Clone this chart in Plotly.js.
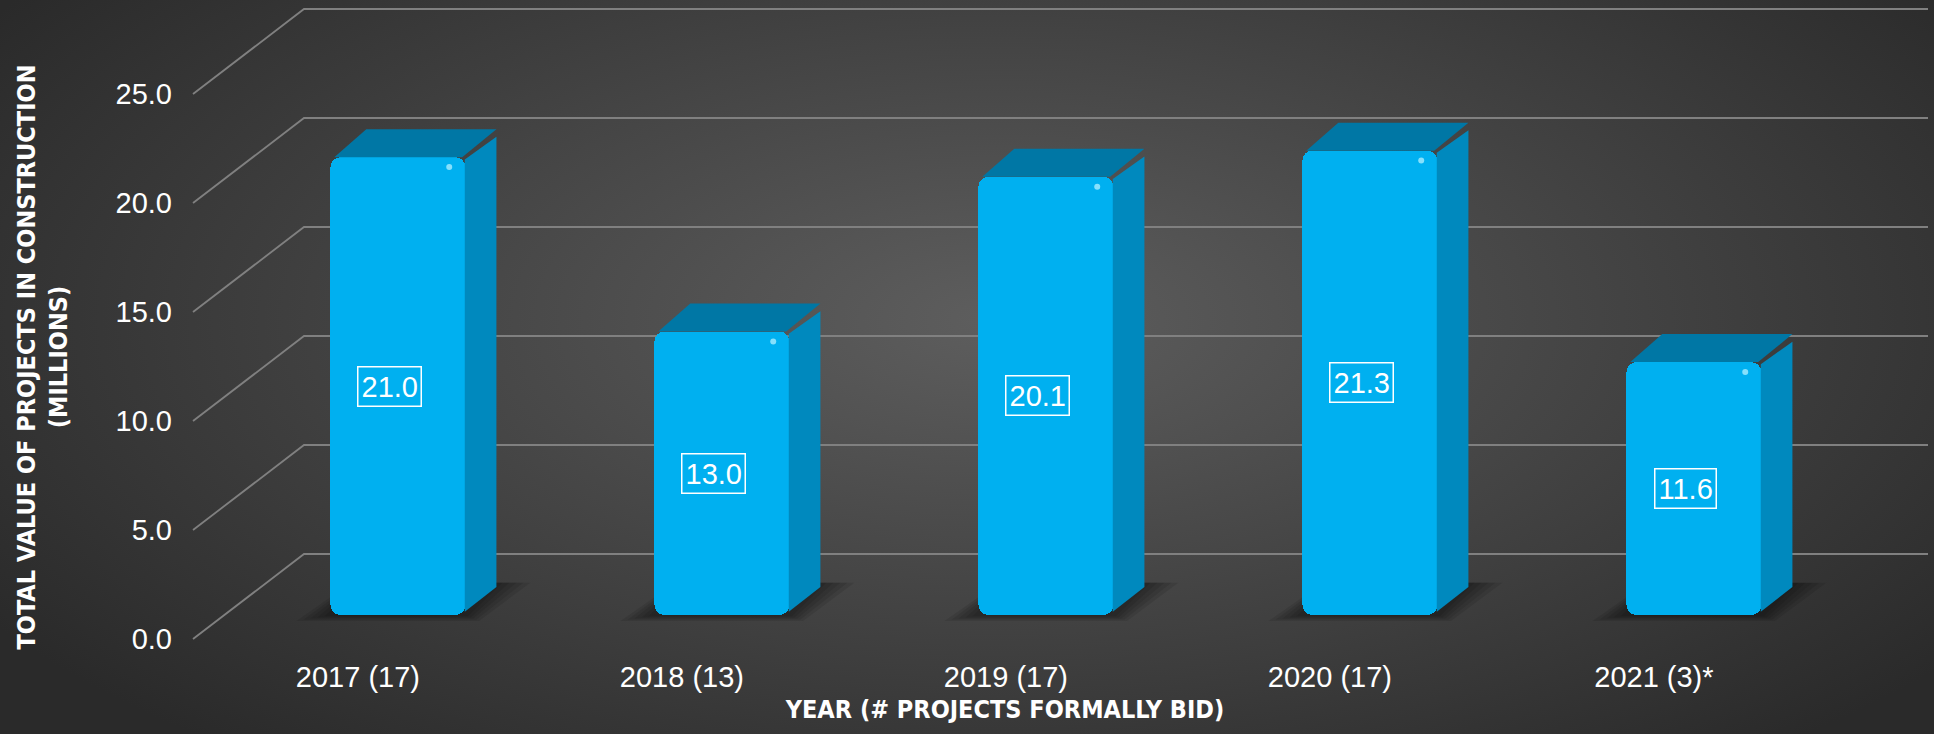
<!DOCTYPE html>
<html><head><meta charset="utf-8">
<script src="https://cdn.plot.ly/plotly-3.0.1.min.js"></script>
<style>
html,body{margin:0;padding:0;width:1934px;height:734px;overflow:hidden;
background: radial-gradient(ellipse 1200px 560px at 1000px 320px, #5e5e5e 0%, #2a2a2a 100%);}
#chart{width:1934px;height:734px;}
</style></head><body><div id="chart"></div>
<script>
// ---- data ----
const categories = ['2017 (17)', '2018 (13)', '2019 (17)', '2020 (17)', '2021 (3)*'];
const values = [21.0, 13.0, 20.1, 21.3, 11.6];
const valueLabels = ['21.0', '13.0', '20.1', '21.3', '11.6'];
const yTickValues = [0, 5, 10, 15, 20, 25];
const yTickLabels = ['0.0', '5.0', '10.0', '15.0', '20.0', '25.0'];
const xTitle = 'YEAR (# PROJECTS FORMALLY BID)';
const yTitle = 'TOTAL VALUE OF PROJECTS IN CONSTRUCTION<br>(MILLIONS)';

// ---- geometry (layout, not data) ----
const W = 1934, H = 734;
const M = {l: 193, r: 117, t: 75, b: 95};
const PX_X = 324, PX_Y = 21.8;
const plotW = W - M.l - M.r, plotH = H - M.t - M.b;
const X0 = -0.509;
const xRange = [X0, X0 + plotW / PX_X];
const yRange = [0, plotH / PX_Y];
const GDX = 111 / PX_X, GDY = 85 / PX_Y;          // depth of the back wall
const X_END = X0 + (1928 - M.l) / PX_X;          // right end of gridlines
const BOFF = 40 / PX_X, BASE = 24 / PX_Y;         // bar front face offset
const BW = 135 / PX_X, BDX = 31 / PX_X, BDY = 28 / PX_Y; // bar width / depth
const LOFF = -8 / PX_X;                           // value label nudge
const fx = x => (x - xRange[0]) / (xRange[1] - xRange[0]);
const fy = y => (y - yRange[0]) / (yRange[1] - yRange[0]);
const idx = categories.map((c, i) => i);

const tickFont = {family: "'Liberation Sans', Arial, sans-serif", size: 29, color: '#ffffff'};
const titleFont = {family: "'Liberation Sans Narrow', 'DejaVu Sans Condensed', 'Arial Narrow', sans-serif", size: 25, color: '#ffffff', weight: 'bold'};

// ---- shapes: perspective grid + soft floor shadows ----
const shapes = [];
yTickValues.forEach(v => {
  shapes.push({type: 'path', xref: 'x domain', yref: 'y domain', layer: 'below',
    path: `M${fx(X0)},${fy(v)} L${fx(X0 + GDX)},${fy(v + GDY)} L${fx(X_END)},${fy(v + GDY)}`,
    line: {color: '#808080', width: 1.8}});
});
idx.forEach(i => {
  const xl = i + BOFF - BW / 2, xr = i + BOFF + BW / 2;
  [0, 1, 2, 3, 4].forEach(k => {
    const ex = (34 - 7 * k) / PX_X, eyb = (6 - 1.2 * k) / PX_Y;
    shapes.push({type: 'path', xref: 'x domain', yref: 'y domain', layer: 'below',
      path: `M${fx(xl - ex)},${fy(BASE - eyb)} L${fx(xr + ex * 0.4)},${fy(BASE - eyb)} ` +
            `L${fx(xr + BDX + ex)},${fy(BASE + BDY + 0.2)} L${fx(xl + BDX - ex * 0.3)},${fy(BASE + BDY + 0.2)} Z`,
      fillcolor: 'rgba(0,0,0,0.09)', line: {width: 0}});
  });
});

// ---- traces ----
const traces = [];
traces.push({type: 'bar', x: idx.map(i => i + BOFF), y: values, base: values.map(() => BASE),
  width: BW, marker: {color: '#00B0F0', cornerradius: 10, line: {width: 0}},
  hoverinfo: 'skip', showlegend: false});
idx.forEach(i => {
  const xl = i + BOFF - BW / 2, xr = i + BOFF + BW / 2, top = BASE + values[i];
  traces.push({type: 'scatter', mode: 'lines', fill: 'toself', fillcolor: '#0077A5',
    x: [xl + 0.012, xr - 0.01, xr + BDX, xl + BDX + 0.015, xl + 0.012],
    y: [top, top, top + BDY, top + BDY, top],
    line: {width: 0, color: '#0077A5'}, hoverinfo: 'skip', showlegend: false, cliponaxis: false});
  traces.push({type: 'scatter', mode: 'lines', fill: 'toself', fillcolor: '#0089BE',
    x: [xr - 0.002, xr + BDX, xr + BDX, xr - 0.002, xr - 0.002],
    y: [BASE + 0.15, BASE + BDY, top + BDY - 0.35, top - 0.1, BASE + 0.15],
    line: {width: 0, color: '#0089BE'}, hoverinfo: 'skip', showlegend: false, cliponaxis: false});
});
// small specular glint near the top-right of each front face
traces.push({type: 'scatter', mode: 'markers',
  x: idx.map(i => i + BOFF + BW / 2 - 0.05), y: values.map(v => BASE + v - 0.45),
  marker: {size: 6, color: '#a8ecff', opacity: 0.8}, hoverinfo: 'skip', showlegend: false, cliponaxis: false});

const annotations = idx.map(i => ({
  x: i + BOFF + LOFF, y: BASE + values[i] / 2, xref: 'x', yref: 'y', text: valueLabels[i],
  showarrow: false, font: tickFont, bordercolor: '#ffffff', borderwidth: 1.5, borderpad: 3
}));

const layout = {
  width: W, height: H, margin: M,
  paper_bgcolor: 'rgba(0,0,0,0)', plot_bgcolor: 'rgba(0,0,0,0)',
  showlegend: false, bargap: 0,
  xaxis: {range: xRange, tickvals: idx, ticktext: categories, tickfont: tickFont,
    showgrid: false, zeroline: false, showline: false, ticks: '', ticklabelstandoff: 18,
    automargin: false, fixedrange: true,
    title: {text: xTitle, font: titleFont, standoff: 8}},
  yaxis: {range: yRange, tickvals: yTickValues, ticktext: yTickLabels, tickfont: tickFont,
    showgrid: false, zeroline: false, showline: false, ticks: '', ticklabelstandoff: 20,
    automargin: false, fixedrange: true,
    title: {text: yTitle, font: titleFont, standoff: 40}},
  shapes: shapes, annotations: annotations
};

Plotly.newPlot('chart', traces, layout, {displayModeBar: false, staticPlot: true});
</script></body></html>
